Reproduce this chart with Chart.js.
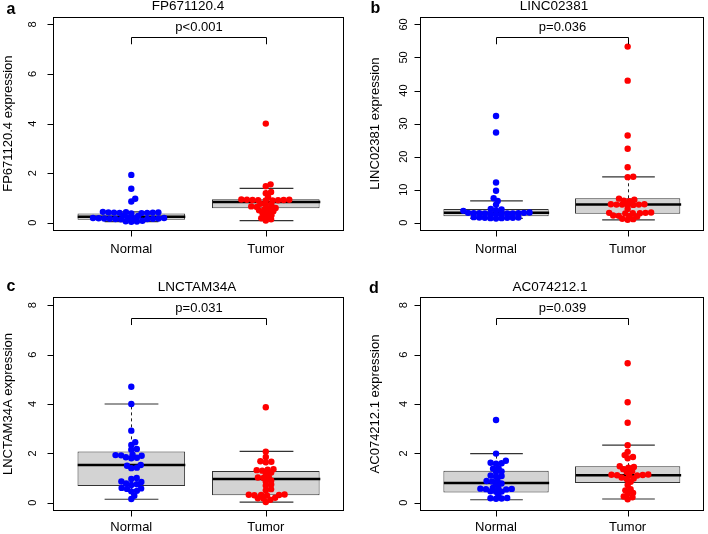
<!DOCTYPE html>
<html><head><meta charset="utf-8">
<script src="https://cdn.jsdelivr.net/npm/chart.js@4.4.1/dist/chart.umd.min.js"></script>
<style>
html,body{margin:0;padding:0;background:#fff;}
#wrap{position:relative;width:708px;height:534px;overflow:hidden;background:#fff;}
canvas{position:absolute;}
</style></head><body><div id="wrap">
<canvas id="ca" width="354" height="267" style="left:0;top:0"></canvas>
<canvas id="cb" width="354" height="267" style="left:354px;top:0"></canvas>
<canvas id="cc" width="354" height="267" style="left:0;top:267px"></canvas>
<canvas id="cd" width="354" height="267" style="left:354px;top:267px"></canvas>
</div>
<script>
// ---------- data ----------
const categories = ['Normal', 'Tumor'];
const panelLetters = ['a', 'b', 'c', 'd'];
const geneNames = ['FP671120.4', 'LINC02381', 'LNCTAM34A', 'AC074212.1'];
const pValueLabels = ['p<0.001', 'p=0.036', 'p=0.031', 'p=0.039'];
const yTicksSmall = [0, 2, 4, 6, 8];
const yTicksLarge = [0, 10, 20, 30, 40, 50, 60];
const yLimitsSmall = [0, 8];
const yLimitsLarge = [0, 60];

// box stats: [lower whisker, Q1, median, Q3, upper whisker]
const fpNormal = [1.93, 1.37, 0.97, 0.86, 0.44, 0.43, 0.42, 0.42, 0.41, 0.41, 0.40, 0.40, 0.39, 0.38, 0.29, 0.27, 0.20, 0.19, 0.19, 0.18, 0.18, 0.17, 0.17, 0.16, 0.16, 0.15, 0.15, 0.14, 0.08, 0.06, 0.05, 0.04];
const fpTumor = [4.0, 1.55, 1.47, 1.24, 1.19, 1.04, 0.94, 0.93, 0.93, 0.92, 0.92, 0.91, 0.91, 0.90, 0.90, 0.77, 0.75, 0.73, 0.66, 0.64, 0.60, 0.58, 0.54, 0.50, 0.46, 0.42, 0.38, 0.30, 0.26, 0.18, 0.14, 0.09];
const fpBoxNormal = [0.05, 0.12, 0.24, 0.37, 0.44];
const fpBoxTumor = [0.09, 0.59, 0.84, 0.95, 1.39];

const lincNormal = [32.3, 27.3, 12.2, 9.7, 7.4, 6.6, 5.5, 4.2, 4.0, 3.8, 3.6, 3.1, 3.0, 3.0, 2.9, 2.9, 2.9, 2.8, 2.8, 2.8, 2.7, 2.7, 2.6, 1.7, 1.6, 1.6, 1.5, 1.5, 1.5, 1.4, 1.4, 1.3];
const lincTumor = [53.3, 43.0, 26.4, 22.4, 16.8, 13.9, 13.8, 7.3, 7.0, 6.7, 6.5, 5.6, 5.6, 5.5, 5.5, 5.5, 5.4, 5.4, 4.2, 3.1, 3.0, 3.0, 2.9, 2.9, 2.8, 2.2, 2.1, 2.0, 1.9, 1.2, 1.1, 0.9];
const lincBoxNormal = [1.3, 2.0, 3.0, 4.2, 6.6];
const lincBoxTumor = [0.9, 2.7, 5.5, 7.4, 13.9];

const lncNormal = [4.7, 4.0, 2.92, 2.45, 2.34, 2.18, 2.15, 1.95, 1.93, 1.92, 1.90, 1.84, 1.82, 1.80, 1.53, 1.50, 1.42, 1.40, 1.0, 0.96, 0.86, 0.84, 0.78, 0.75, 0.72, 0.60, 0.58, 0.56, 0.48, 0.46, 0.28, 0.15];
const lncTumor = [3.87, 2.07, 1.85, 1.68, 1.66, 1.64, 1.36, 1.34, 1.32, 1.30, 1.22, 1.18, 1.05, 1.02, 1.00, 0.90, 0.86, 0.74, 0.70, 0.55, 0.50, 0.33, 0.32, 0.31, 0.31, 0.30, 0.29, 0.20, 0.18, 0.17, 0.12, 0.03];
const lncBoxNormal = [0.14, 0.68, 1.53, 2.08, 4.0];
const lncBoxTumor = [0.02, 0.30, 0.96, 1.28, 2.08];

const acNormal = [3.35, 1.99, 1.70, 1.62, 1.60, 1.58, 1.40, 1.38, 1.27, 1.25, 1.10, 1.08, 1.06, 0.90, 0.88, 0.86, 0.78, 0.75, 0.60, 0.58, 0.57, 0.56, 0.55, 0.54, 0.46, 0.45, 0.44, 0.30, 0.19, 0.18, 0.17, 0.16];
const acTumor = [5.65, 4.07, 3.24, 2.33, 2.06, 1.93, 1.85, 1.80, 1.48, 1.45, 1.42, 1.36, 1.28, 1.24, 1.14, 1.13, 1.12, 1.11, 1.10, 1.10, 1.02, 0.98, 0.96, 0.85, 0.72, 0.55, 0.50, 0.40, 0.36, 0.25, 0.22, 0.14];
const acBoxNormal = [0.12, 0.41, 0.80, 1.30, 1.99];
const acBoxTumor = [0.15, 0.80, 1.11, 1.48, 2.33];

// ---------- layout (positions/styles only) ----------
const FONT = "'Liberation Sans', Arial, Helvetica, sans-serif";
const SWARM_DX = 5.6, SWARM_DY = 3.8;
const panels = [
  {canvas:'ca', idx:0, normal:fpNormal, tumor:fpTumor, boxN:fpBoxNormal, boxT:fpBoxTumor, ticks:yTicksSmall, ylim:yLimitsSmall,
   area:{l:53.3, r:343.8, t:16.5, b:230.7}, titleX:188, tickOff:20.5, letterPos:[11,10], xlabOff:18.3},
  {canvas:'cb', idx:1, normal:lincNormal, tumor:lincTumor, boxN:lincBoxNormal, boxT:lincBoxTumor, ticks:yTicksLarge, ylim:yLimitsLarge,
   area:{l:65.7, r:352, t:16.5, b:230.7}, titleX:200, tickOff:16, letterPos:[21.5,9], xlabOff:18.3},
  {canvas:'cc', idx:2, normal:lncNormal, tumor:lncTumor, boxN:lncBoxNormal, boxT:lncBoxTumor, ticks:yTicksSmall, ylim:yLimitsSmall,
   area:{l:53.3, r:343.8, t:30.4, b:243.6}, titleX:197, tickOff:20.5, letterPos:[11,20], xlabOff:16.8},
  {canvas:'cd', idx:3, normal:acNormal, tumor:acTumor, boxN:acBoxNormal, boxT:acBoxTumor, ticks:yTicksSmall, ylim:yLimitsSmall,
   area:{l:65.7, r:352, t:30.4, b:243.6}, titleX:196, tickOff:16, letterPos:[20,21.5], xlabOff:16.8}
];

function seg(ctx, x1, y1, x2, y2){ ctx.beginPath(); ctx.moveTo(x1,y1); ctx.lineTo(x2,y2); ctx.stroke(); }

function makePlugin(P){
  return {
    id: 'rstyle' + P.idx,
    afterDatasetDraw(chart, args){
      if (args.index !== 0) return;
      const ctx = chart.ctx, ys = chart.scales.y, meta = chart.getDatasetMeta(0);
      const py = v => ys.getPixelForValue(v);
      [P.boxN, P.boxT].forEach((s, i) => {
        const el = meta.data[i]; const cx = Math.round(el.x) + 0.5, hw = el.width / 2;
        ctx.save();
        ctx.strokeStyle = '#222'; ctx.lineWidth = 1;
        ctx.setLineDash([3, 3]);
        if (s[4] > s[3]) seg(ctx, cx, py(s[3]), cx, py(s[4]));
        if (s[0] < s[1]) seg(ctx, cx, py(s[1]), cx, py(s[0]));
        ctx.setLineDash([]);
        ctx.strokeStyle = '#333'; ctx.lineWidth = 1.2;
        seg(ctx, cx - hw/2, py(s[4]), cx + hw/2, py(s[4]));
        seg(ctx, cx - hw/2, py(s[0]), cx + hw/2, py(s[0]));
        ctx.strokeStyle = '#000'; ctx.lineWidth = 2.5;
        seg(ctx, cx - hw, py(s[2]), cx + hw, py(s[2]));
        ctx.restore();
      });
    },
    afterDraw(chart){
      const ctx = chart.ctx, a = chart.chartArea, ys = chart.scales.y, xs = chart.scales.x;
      const py = v => ys.getPixelForValue(v);
      ctx.save();
      ctx.strokeStyle = '#000'; ctx.lineWidth = 1; ctx.fillStyle = '#000';
      const L = Math.round(a.left) + 0.5, R = Math.round(a.right) - 0.5, T = Math.round(a.top) + 0.5, B = Math.round(a.bottom) - 0.5;
      ctx.strokeRect(L, T, R - L, B - T);
      // y axis
      ctx.font = '11px ' + FONT;
      ys.ticks.forEach(t => {
        const y = Math.round(py(t.value)) + 0.5;
        seg(ctx, L - 6, y, L, y);
        ctx.save(); ctx.translate(a.left - P.tickOff, py(t.value)); ctx.rotate(-Math.PI/2);
        ctx.textAlign = 'center'; ctx.textBaseline = 'middle'; ctx.fillText(String(t.value), 0, 0);
        ctx.restore();
      });
      // x axis
      ctx.font = '13px ' + FONT; ctx.textAlign = 'center'; ctx.textBaseline = 'middle';
      categories.forEach((c, i) => {
        const x = Math.round(xs.getPixelForValue(i + 1)) + 0.5;
        seg(ctx, x, B, x, B + 6);
        ctx.fillText(c, xs.getPixelForValue(i + 1), a.bottom + P.xlabOff);
      });
      // y title
      ctx.save(); ctx.translate(a.left - 44.5, (a.top + a.bottom) / 2); ctx.rotate(-Math.PI/2);
      ctx.fillText(geneNames[P.idx] + ' expression', 0, 0); ctx.restore();
      // main title
      ctx.font = '13.5px ' + FONT;
      ctx.fillText(geneNames[P.idx], P.titleX, a.top - 10.5);
      // bracket
      ctx.font = '13px ' + FONT;
      const top = P.ylim[1];
      const xN = Math.round(xs.getPixelForValue(1)) + 0.5, xT = Math.round(xs.getPixelForValue(2)) + 0.5;
      const yb = Math.round(py(top * 0.9375)) + 0.5, yl = py(top * 0.9);
      ctx.beginPath(); ctx.moveTo(xN, yl); ctx.lineTo(xN, yb); ctx.lineTo(xT, yb); ctx.lineTo(xT, yl); ctx.stroke();
      ctx.fillText(pValueLabels[P.idx], (xN + xT) / 2, py(top * 0.985));
      // panel letter
      ctx.font = 'bold 16px ' + FONT;
      ctx.fillText(panelLetters[P.idx], P.letterPos[0], P.letterPos[1]);
      ctx.restore();
    }
  };
}

// beeswarm ("swarm") placement: points placed in ascending value order at the
// horizontal position closest to the centre that does not collide.
function swarmOffsets(pys, dX, dY){
  const n = pys.length;
  const order = [...Array(n).keys()].sort((p, q) => pys[q] - pys[p]);
  const xs = new Array(n).fill(0); const placed = [];
  const hit = (p, c, y) => ((p.x - c) / dX) ** 2 + ((p.y - y) / dY) ** 2 < 1 - 1e-6;
  for (const i of order){
    const y = pys[i]; const cands = [0];
    for (const p of placed){
      const dy = Math.abs(p.y - y);
      if (dy < dY){ const dx = dX * Math.sqrt(1 - (dy / dY) ** 2); cands.push(p.x + dx, p.x - dx); }
    }
    let best = null;
    for (const c of cands){
      if (!placed.some(p => hit(p, c, y))){
        if (best === null || Math.abs(c) < Math.abs(best) - 1e-9) best = c;
      }
    }
    xs[i] = best; placed.push({x: best, y});
  }
  return xs;
}

panels.forEach(P => {
  const span = P.ylim[1] - P.ylim[0];
  const cv = document.getElementById(P.canvas);
  const chart = new Chart(cv, {
    data: {
      datasets: [
        {type:'bar', data: [{x:1, y:[P.boxN[1], P.boxN[3]]}, {x:2, y:[P.boxT[1], P.boxT[3]]}],
         backgroundColor:'#d3d3d3', borderColor:'#333', borderWidth:1, borderSkipped:false,
         barPercentage:1, categoryPercentage:0.8, order:2},
        {type:'scatter', label:categories[0], data: P.normal.map(v => ({x:1, y:v})),
         pointRadius:3.2, pointBackgroundColor:'#0000ff', pointBorderWidth:0, order:1},
        {type:'scatter', label:categories[1], data: P.tumor.map(v => ({x:2, y:v})),
         pointRadius:3.2, pointBackgroundColor:'#ff0000', pointBorderWidth:0, order:0}
      ]
    },
    options: {
      responsive:false, animation:false, events:[],
      layout:{padding:{left:P.area.l, right:354 - P.area.r, top:P.area.t, bottom:267 - P.area.b}},
      plugins:{legend:{display:false}, tooltip:{enabled:false}},
      scales: {
        x: {type:'linear', display:false, offset:false, min:0.42, max:2.58,
            afterBuildTicks: s => { s.ticks = [{value:1}, {value:2}]; }},
        y: {type:'linear', display:false, offset:false, min:P.ylim[0] - 0.04*span, max:P.ylim[1] + 0.04*span,
            afterBuildTicks: s => { s.ticks = P.ticks.map(v => ({value:v})); }}
      }
    },
    plugins:[makePlugin(P)]
  });
  const xsc = chart.scales.x, ysc = chart.scales.y;
  const pxPerX = xsc.getPixelForValue(2) - xsc.getPixelForValue(1);
  [P.normal, P.tumor].forEach((vals, g) => {
    const offs = swarmOffsets(vals.map(v => ysc.getPixelForValue(v)), SWARM_DX, SWARM_DY);
    chart.data.datasets[g + 1].data = vals.map((v, i) => ({x: g + 1 + offs[i] / pxPerX, y: v}));
  });
  chart.update('none');
});
</script>
</body></html>
